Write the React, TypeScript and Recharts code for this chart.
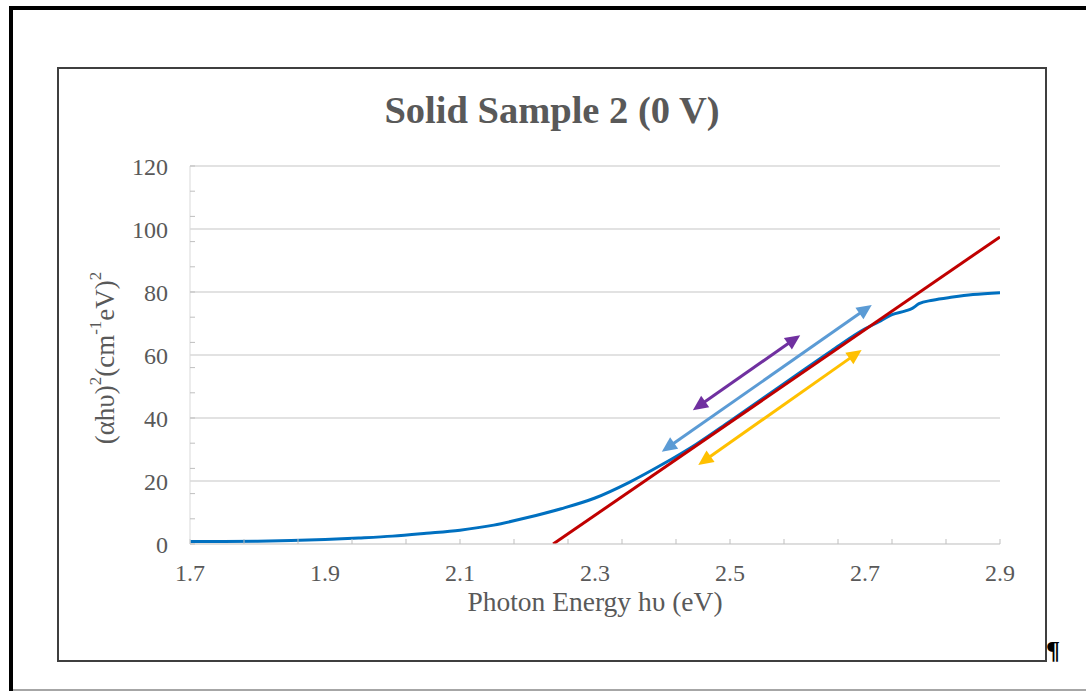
import React from 'react';
import { LineChart, Line, XAxis, YAxis, CartesianGrid, ReferenceLine } from 'recharts';

// measured absorption curve (photon energy in eV, (αhυ)^2)
const energy = [1.7, 1.75, 1.8, 1.85, 1.9, 1.95, 2.0, 2.05, 2.1, 2.15, 2.2, 2.25, 2.3, 2.35, 2.4, 2.45, 2.5, 2.55, 2.6, 2.65, 2.7, 2.72, 2.74, 2.76, 2.77, 2.78, 2.8, 2.83, 2.86, 2.9];
const absorption = [0.8, 0.8, 0.9, 1.1, 1.4, 1.9, 2.5, 3.4, 4.4, 6.0, 8.4, 11.2, 14.6, 19.5, 25.3, 31.7, 39.0, 46.4, 53.9, 61.3, 68.3, 70.5, 72.8, 74.0, 74.8, 76.3, 77.4, 78.4, 79.2, 79.8];

// linear fit (Tauc extrapolation)
const fitEnergy = [2.238, 2.9];
const fitValue = [0, 97.5];

// annotation arrows: [x1, y1, x2, y2]
const purpleArrow = [2.445, 42.5, 2.604, 66.3];
const blueArrow = [2.399, 29.3, 2.71, 75.9];
const goldArrow = [2.453, 25.1, 2.695, 61.6];

const xTicks = [1.7, 1.9, 2.1, 2.3, 2.5, 2.7, 2.9];
const yTicks = [0, 20, 40, 60, 80, 100, 120];
const xMinorTicks = Array.from({ length: 31 }, (_, i) => Math.round((1.7 + i * 0.04) * 100) / 100);
const yMinorTicks = Array.from({ length: 31 }, (_, i) => i * 4);

const curveData = energy.map((e, i) => ({ e, v: absorption[i] }));
const fitData = fitEnergy.map((e, i) => ({ e, fit: fitValue[i] }));

const serif = '"Liberation Serif", "Times New Roman", serif';
const textGray = '#595959';

const DoubleArrow = (props: any) => {
  const { x1, y1, x2, y2, color } = props;
  const dx = x2 - x1;
  const dy = y2 - y1;
  const len = Math.sqrt(dx * dx + dy * dy);
  const ux = dx / len;
  const uy = dy / len;
  const hl = 15;
  const hw = 7;
  const head = (tx: number, ty: number, dir: number) => {
    const bx = tx - dir * ux * hl;
    const by = ty - dir * uy * hl;
    return `${tx},${ty} ${bx - uy * hw},${by + ux * hw} ${bx + uy * hw},${by - ux * hw}`;
  };
  return (
    <g>
      <line
        x1={x1 + ux * hl * 0.8}
        y1={y1 + uy * hl * 0.8}
        x2={x2 - ux * hl * 0.8}
        y2={y2 - uy * hl * 0.8}
        stroke={color}
        strokeWidth={3}
      />
      <polygon points={head(x1, y1, -1)} fill={color} />
      <polygon points={head(x2, y2, 1)} fill={color} />
    </g>
  );
};

const renderYLabel = (props: any) => {
  const { viewBox } = props;
  const cx = viewBox.x + viewBox.width - 85;
  const cy = viewBox.y + viewBox.height / 2 + 3;
  return (
    <text
      x={cx}
      y={cy}
      transform={`rotate(-90, ${cx}, ${cy})`}
      textAnchor="middle"
      dominantBaseline="central"
      fontFamily={serif}
      fontSize={27}
      fill={textGray}
    >
      <tspan>(αhυ)</tspan>
      <tspan dy={-10} fontSize={17}>2</tspan>
      <tspan dy={10}>(cm</tspan>
      <tspan dy={-10} fontSize={17}>-1</tspan>
      <tspan dy={10}>eV)</tspan>
      <tspan dy={-10} fontSize={17}>2</tspan>
    </text>
  );
};

const renderXLabel = (props: any) => {
  const { viewBox } = props;
  return (
    <text
      x={viewBox.x + viewBox.width / 2}
      y={viewBox.y + 67}
      textAnchor="middle"
      fontFamily={serif}
      fontSize={27.5}
      fill={textGray}
    >
      Photon Energy hυ (eV)
    </text>
  );
};

const arrowLine = (a: number[], color: string) => (
  <ReferenceLine
    segment={[{ x: a[0], y: a[1] }, { x: a[2], y: a[3] }]}
    ifOverflow="visible"
    shape={(p: any) => <DoubleArrow {...p} color={color} />}
  />
);

const noLabel = () => <g />;

export default function App() {
  const tickStyle = { fontSize: 24, fill: textGray, fontFamily: serif };
  return (
    <div style={{ position: 'absolute', left: 0, top: 0, width: 1086, height: 691, overflow: 'hidden', background: '#fff' }}>
      {/* page frame */}
      <div style={{ position: 'absolute', left: 9, top: 6, width: 4, height: 690, background: '#000' }} />
      <div style={{ position: 'absolute', left: 9, top: 6, width: 1090, height: 4, background: '#000' }} />
      <div style={{ position: 'absolute', left: 13, top: 689, width: 1080, height: 2, background: '#a6a6a6' }} />
      <div
        style={{
          position: 'absolute',
          left: 57,
          top: 67,
          width: 990,
          height: 595,
          border: '2px solid #3f3f3f',
          boxSizing: 'border-box',
        }}
      >
        <div
          style={{
            position: 'absolute',
            left: 0,
            top: 22,
            width: 986,
            textAlign: 'center',
            fontFamily: serif,
            fontWeight: 'bold',
            fontSize: 38.5,
            lineHeight: '38px',
            color: textGray,
          }}
        >
          Solid Sample 2 (0 V)
        </div>
        <LineChart width={986} height={591} margin={{ top: 97, right: 45, bottom: 66, left: 71 }}>
          <CartesianGrid vertical={false} stroke="#d9d9d9" strokeWidth={1.3} />
          <XAxis
            dataKey="e"
            type="number"
            domain={[1.7, 2.9]}
            ticks={xTicks}
            tickFormatter={(v: number) => v.toFixed(1)}
            allowDataOverflow
            tickLine={false}
            tickSize={0}
            tickMargin={20}
            axisLine={{ stroke: '#d9d9d9' }}
            tick={tickStyle}
            height={50}
            label={{ content: renderXLabel }}
          />
          <XAxis
            xAxisId="minor"
            dataKey="e"
            type="number"
            domain={[1.7, 2.9]}
            ticks={xMinorTicks}
            allowDataOverflow
            mirror
            tick={noLabel}
            axisLine={false}
            tickLine={{ stroke: '#bfbfbf' }}
            tickSize={5}
          />
          <YAxis
            type="number"
            domain={[0, 120]}
            ticks={yTicks}
            allowDataOverflow
            tickLine={false}
            tickSize={0}
            tickMargin={22}
            axisLine={{ stroke: '#d9d9d9' }}
            tick={tickStyle}
            width={60}
            label={{ content: renderYLabel }}
          />
          <YAxis
            yAxisId="minor"
            type="number"
            domain={[0, 120]}
            ticks={yMinorTicks}
            allowDataOverflow
            mirror
            tick={noLabel}
            axisLine={false}
            tickLine={{ stroke: '#bfbfbf' }}
            tickSize={5}
          />
          <Line
            data={curveData}
            dataKey="v"
            type="monotone"
            stroke="#0070c0"
            strokeWidth={3}
            dot={false}
            isAnimationActive={false}
          />
          <Line
            data={fitData}
            dataKey="fit"
            type="linear"
            stroke="#c00000"
            strokeWidth={3}
            dot={false}
            isAnimationActive={false}
          />
          {arrowLine(purpleArrow, '#7030a0')}
          {arrowLine(blueArrow, '#5b9bd5')}
          {arrowLine(goldArrow, '#ffc000')}
        </LineChart>
      </div>
      <div
        style={{
          position: 'absolute',
          left: 1046,
          top: 636,
          fontFamily: serif,
          fontWeight: 'bold',
          fontSize: 26,
          lineHeight: '30px',
          color: '#000',
        }}
      >
        ¶
      </div>
    </div>
  );
}
